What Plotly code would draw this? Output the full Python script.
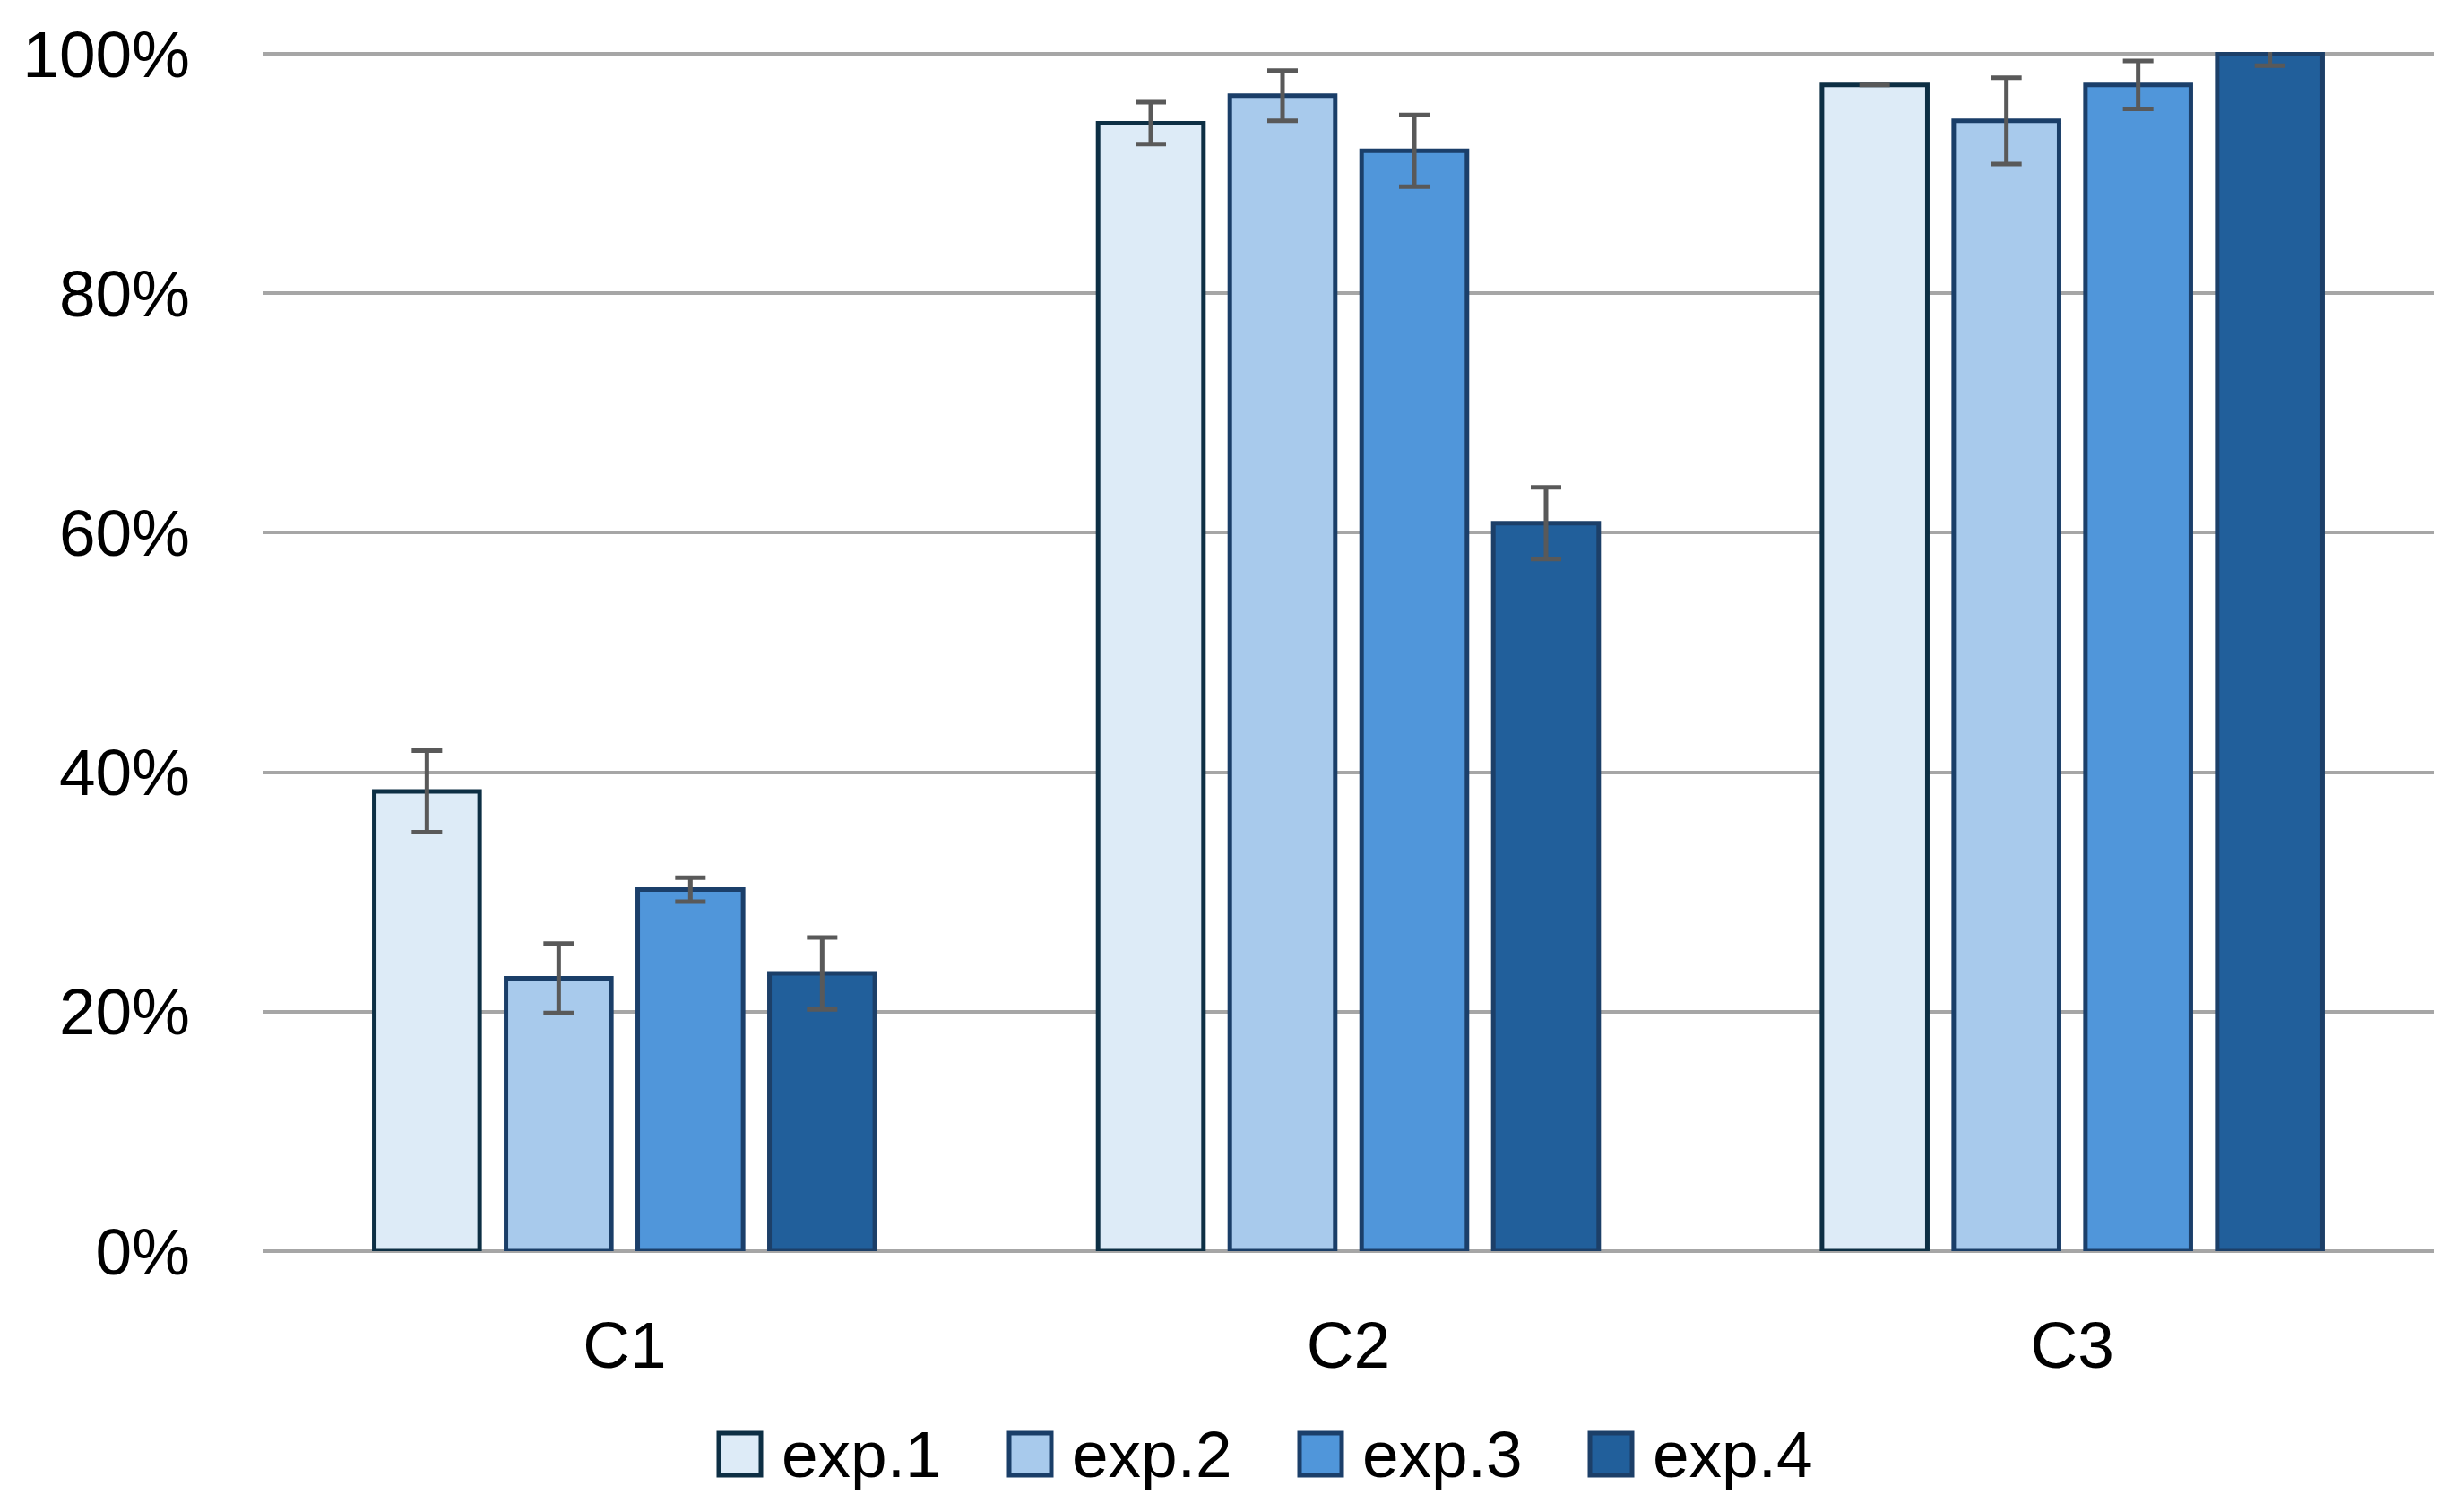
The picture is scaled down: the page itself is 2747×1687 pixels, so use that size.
import plotly.graph_objects as go

categories = ["C1", "C2", "C3"]
series_names = ["exp.1", "exp.2", "exp.3", "exp.4"]
exp1 = [38.4, 94.2, 97.4]
exp2 = [22.8, 96.5, 94.4]
exp3 = [30.2, 91.9, 97.4]
exp4 = [23.2, 60.8, 100.0]
err1 = [3.4, 1.75, 0.0]
err2 = [2.9, 2.1, 3.6]
err3 = [1.0, 3.0, 2.0]
err4 = [3.0, 3.0, 1.0]
y_ticks = [0, 20, 40, 60, 80, 100]
y_tick_labels = ["0%", "20%", "40%", "60%", "80%", "100%"]

values = [exp1, exp2, exp3, exp4]
errors = [err1, err2, err3, err4]
fills = ["#DDEBF7", "#A8CAEC", "#5096DA", "#215F9B"]
lines = ["#0D2F44", "#1A3E68", "#1B3F6A", "#1C3F68"]

W, H = 2747, 1687
YMAX = 100.15
L, R, B = 293, 31, 291
T = 58
FONT = "Liberation Sans, Arial, sans-serif"
FS = 73

fig = go.Figure()
for name, v, e, fc, lc in zip(series_names, values, errors, fills, lines):
    fig.add_trace(go.Bar(
        name=name, x=categories, y=v,
        marker=dict(color=fc, line=dict(color=lc, width=5)),
        error_y=dict(type="data", array=e, visible=True, color="#595959",
                     thickness=5, width=17),
        showlegend=False,
    ))

# custom legend (large square swatches like the original)
pw = W - L - R
ph = H - T - B
def px2x(px):
    return (px - L) / pw
def px2y(py):
    return (H - B - py) / ph

shapes = []
annotations = []
for i, (name, fc, lc) in enumerate(zip(series_names, fills, lines)):
    left = 800 + 324 * i
    shapes.append(dict(type="rect", xref="paper", yref="paper",
                       x0=px2x(left + 2), x1=px2x(left + 49),
                       y0=px2y(1646), y1=px2y(1599),
                       fillcolor=fc, line=dict(color=lc, width=5)))
    annotations.append(dict(xref="paper", yref="paper", x=px2x(left + 70),
                            y=px2y(1622), text=name, showarrow=False,
                            xanchor="left", yanchor="middle",
                            font=dict(family=FONT, size=FS, color="black")))

fig.update_layout(
    width=W, height=H,
    margin=dict(l=L, r=R, t=T, b=B, pad=0),
    paper_bgcolor="white", plot_bgcolor="white",
    barmode="group", bargap=0.272, bargroupgap=0.2,
    font=dict(family=FONT, size=FS, color="black"),
    shapes=shapes, annotations=annotations,
    xaxis=dict(showgrid=False, ticks="", showline=False,
               tickfont=dict(family=FONT, size=FS, color="black"),
               ticklabelstandoff=56),
    yaxis=dict(range=[0, YMAX], tickvals=y_ticks, ticktext=y_tick_labels,
               showgrid=True, gridcolor="#A6A6A6", gridwidth=4,
               zeroline=True, zerolinecolor="#A6A6A6", zerolinewidth=4,
               showline=False, ticks="",
               tickfont=dict(family=FONT, size=FS, color="black"),
               ticklabelstandoff=80),
)

fig.write_html("out.html",
               config={"displayModeBar": False},
               post_script="document.body.style.margin='0';document.body.style.padding='0';")
